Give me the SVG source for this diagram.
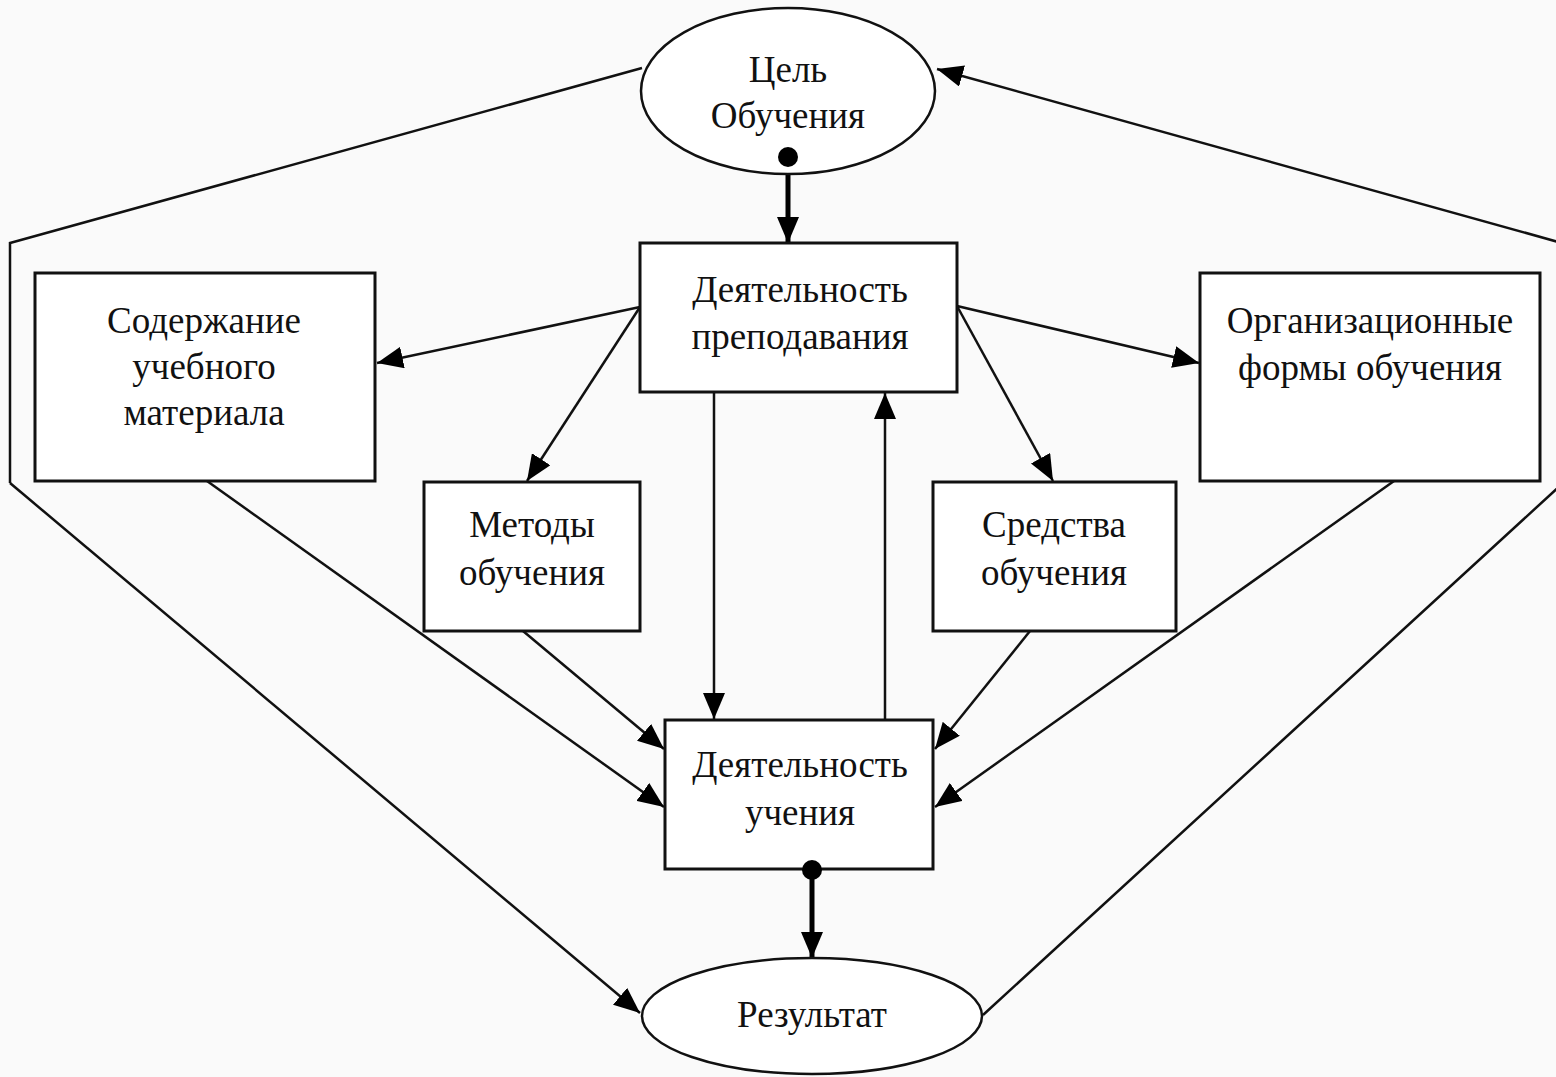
<svg xmlns="http://www.w3.org/2000/svg" width="1556" height="1077" viewBox="0 0 1556 1077">
<defs>
<marker id="ah" markerUnits="userSpaceOnUse" markerWidth="28" markerHeight="22" refX="26" refY="11" orient="auto">
<path d="M0,0 L26,11 L0,22 Z" fill="#000"/>
</marker>
<marker id="ahb" markerUnits="userSpaceOnUse" markerWidth="28" markerHeight="22" refX="26" refY="11" orient="auto">
<path d="M0,0 L26,11 L0,22 Z" fill="#000"/>
</marker>
</defs>
<style>
.box{fill:#fff;stroke:#111;stroke-width:3}
.ell{fill:#fff;stroke:#111;stroke-width:2.5}
.t{font-family:"Liberation Serif","Times New Roman",serif;font-size:37px;fill:#111;text-anchor:middle}
.c{fill:none;stroke:#111;stroke-width:2.5}
.a{marker-end:url(#ah)}
.thick{fill:none;stroke:#000;stroke-width:5;marker-end:url(#ahb)}
</style>
<rect width="1556" height="1077" fill="#fafafa"/>
<g id="connectors">
<polyline class="c" points="642,68 10,243 10,483"/>
<polyline class="c a" points="10,483 640,1013"/>
<polyline class="c" points="983,1015 1562,484 1562,243"/>
<polyline class="c a" points="1562,243 937,69"/>
<line class="c a" x1="640" y1="307" x2="377" y2="363"/>
<line class="c a" x1="640" y1="307" x2="527" y2="481"/>
<line class="c a" x1="957" y1="306" x2="1199" y2="363"/>
<line class="c a" x1="957" y1="306" x2="1053" y2="481"/>
<line class="c a" x1="714" y1="392" x2="714" y2="719"/>
<line class="c a" x1="885" y1="720" x2="885" y2="393"/>
<line class="c a" x1="523" y1="631" x2="664" y2="749"/>
<line class="c a" x1="207" y1="481" x2="664" y2="807"/>
<line class="c a" x1="1030" y1="631" x2="935" y2="749"/>
<line class="c a" x1="1394" y1="481" x2="935" y2="807"/>
<line class="thick" x1="788" y1="158" x2="788" y2="243"/>
<line class="thick" x1="812" y1="871" x2="812" y2="958"/>
</g>
<g id="goal">
<ellipse class="ell" cx="788" cy="91" rx="147" ry="83"/>
<text class="t" x="788" y="82">Цель</text>
<text class="t" x="788" y="128">Обучения</text>
</g>
<g id="teaching">
<rect class="box" x="640" y="243" width="317" height="149"/>
<text class="t" x="800" y="302">Деятельность</text>
<text class="t" x="800" y="349">преподавания</text>
</g>
<g id="content">
<rect class="box" x="35" y="273" width="340" height="208"/>
<text class="t" x="204" y="333">Содержание</text>
<text class="t" x="204" y="379">учебного</text>
<text class="t" x="204" y="425">материала</text>
</g>
<g id="forms">
<rect class="box" x="1200" y="273" width="340" height="208"/>
<text class="t" x="1370" y="333">Организационные</text>
<text class="t" x="1370" y="380">формы обучения</text>
</g>
<g id="methods">
<rect class="box" x="424" y="482" width="216" height="149"/>
<text class="t" x="532" y="537">Методы</text>
<text class="t" x="532" y="585">обучения</text>
</g>
<g id="means">
<rect class="box" x="933" y="482" width="243" height="149"/>
<text class="t" x="1054" y="537">Средства</text>
<text class="t" x="1054" y="585">обучения</text>
</g>
<g id="learning">
<rect class="box" x="665" y="720" width="268" height="149"/>
<text class="t" x="800" y="777">Деятельность</text>
<text class="t" x="800" y="825">учения</text>
</g>
<g id="result">
<ellipse class="ell" cx="812" cy="1016" rx="170" ry="58"/>
<text class="t" x="812" y="1027">Результат</text>
</g>
<g id="dots">
<circle cx="788" cy="157" r="10" fill="#000"/>
<circle cx="812" cy="870" r="10" fill="#000"/>
</g>
</svg>
